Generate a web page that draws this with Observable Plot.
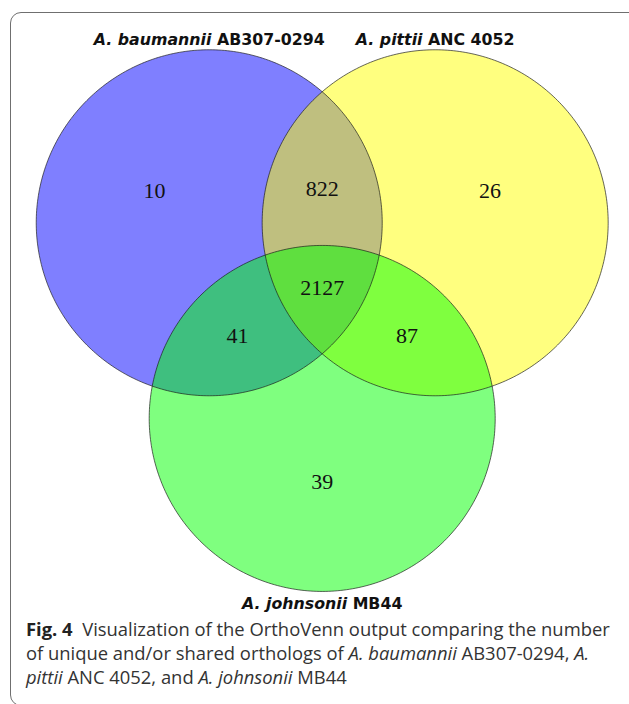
<!DOCTYPE html>
<html><head><meta charset="utf-8">
<script src="https://cdn.jsdelivr.net/npm/d3@7"></script>
<script src="https://cdn.jsdelivr.net/npm/@observablehq/plot@0.6"></script>
<style>
html,body{margin:0;padding:0;background:#fff;width:629px;height:704px;overflow:hidden;position:relative;}
#frame{position:absolute;left:9.5px;top:12px;width:660px;height:694px;border:1.3px solid #6f6f6f;border-radius:11px;box-sizing:border-box;}
#chart{position:absolute;left:0;top:0;}
#caption{position:absolute;left:26px;top:617px;font-family:"Open Sans";font-size:18.4px;line-height:24px;color:#333;white-space:nowrap;}
#caption b{font-weight:700;color:#222;}
</style></head><body>
<div id="frame"></div>
<div id="chart"></div>
<div id="caption"><b>Fig. 4</b>&nbsp; Visualization of the OrthoVenn output comparing the number<br>of unique and/or shared orthologs of <i>A. baumannii</i> AB307-0294, <i>A.</i><br><i>pittii</i> ANC 4052, and <i>A. johnsonii</i> MB44</div>
<script>
// ---- data ----
const setKeys = ["A", "B", "C"];
const species = ["A. baumannii", "A. pittii", "A. johnsonii"];
const strains = ["AB307-0294", "ANC 4052", "MB44"];
const regionSets = ["A", "B", "C", "AB", "AC", "BC", "ABC"];
const regionCounts = [10, 26, 39, 822, 41, 87, 2127];

// ---- styles ----
const fills = ["#0000ff", "#ffff00", "#00ff00"];

// ---- geometry: three equal circles (radius 1) on an equilateral triangle ----
const R = 1, D = 1.306;            // center distance relative to radius
const rho = D / Math.sqrt(3);
const angles = [150, 30, 270];
const circles = setKeys.map((k, i) => ({
  key: k, species: species[i], strain: strains[i],
  cx: rho * Math.cos(angles[i] * Math.PI / 180),
  cy: rho * Math.sin(angles[i] * Math.PI / 180),
  r: R
}));
const outline = circles.map(c => d3.range(0, 360, 1).map(a => ({
  key: c.key,
  x: c.cx + c.r * Math.cos(a * Math.PI / 180),
  y: c.cy + c.r * Math.sin(a * Math.PI / 180)
})));

// label position of each region: its pole of inaccessibility on a grid
const best = {};
const step = 0.005;
for (let x = -2; x <= 2; x += step) {
  for (let y = -2; y <= 2; y += step) {
    let key = "", m = Infinity;
    for (const c of circles) {
      const d = Math.hypot(x - c.cx, y - c.cy);
      if (d < c.r) key += c.key;
      m = Math.min(m, Math.abs(d - c.r));
    }
    if (!key) continue;
    if (!best[key] || m > best[key].m) best[key] = {x, y, m};
  }
}
const regions = regionSets.map((s, i) => ({sets: s, count: regionCounts[i], x: best[s].x, y: best[s].y}));

const labelFont = {fontFamily: "DejaVu Sans", fontWeight: "bold", fontSize: 15.8, fill: "#111"};

const plot = Plot.plot({
  width: 629, height: 615, margin: 0,
  style: {background: "transparent", overflow: "visible"},
  x: {domain: [-1.8595, 1.7763], axis: null},
  y: {domain: [-1.8931, 1.6618], axis: null},
  marks: [
    ...outline.map((pts, i) => Plot.line(pts, {x: "x", y: "y", curve: "linear-closed", fill: fills[i], fillOpacity: 0.5, stroke: "none"})),
    ...outline.map(pts => Plot.line(pts, {x: "x", y: "y", curve: "linear-closed", stroke: "#1a1a1a", strokeWidth: 0.8, strokeOpacity: 0.85})),
    Plot.text(regions, {x: "x", y: "y", text: d => String(d.count), fontFamily: "Liberation Serif", fontSize: 22, fill: "#111"}),
    Plot.text(circles.slice(0, 2), {x: "cx", y: d => d.cy + d.r, text: d => d.species + "|" + d.strain, lineAnchor: "bottom", dy: -5, ...labelFont}),
    Plot.text(circles.slice(2), {x: "cx", y: d => d.cy - d.r, text: d => d.species + "|" + d.strain, lineAnchor: "top", dy: 6, ...labelFont})
  ]
});

// species in italics, strain upright
d3.select(plot).selectAll("text").each(function () {
  if (this.textContent.indexOf("|") < 0) return;
  const [sp, st] = this.textContent.split("|");
  const t = d3.select(this);
  t.selectAll("*").remove();
  t.text(null);
  t.append("tspan").attr("font-style", "italic").text(sp);
  t.append("tspan").text("\u00a0" + st);
});

document.getElementById("chart").appendChild(plot);
</script>
</body></html>
